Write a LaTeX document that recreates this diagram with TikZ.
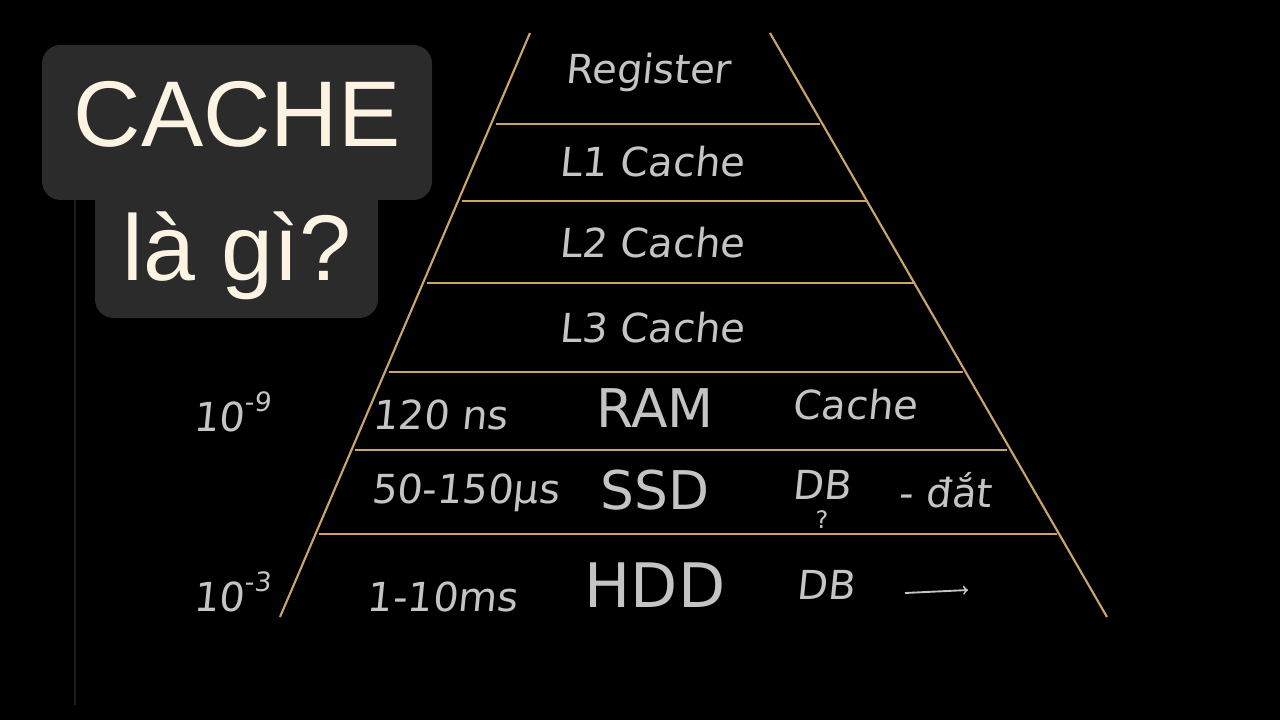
\documentclass[tikz,border=0pt]{standalone}
\usepackage{fontspec}
\setmainfont{Liberation Sans}
\newfontfamily\hand{DejaVu Sans}[Scale=1]
\begin{document}
\begin{tikzpicture}[x=0.75pt,y=-0.75pt,
  lvl/.style={draw=pyr,line width=1.6pt},
  hw/.style={text=hwc,font=\hand\fontsize{30}{32}\selectfont\addfontfeature{FakeSlant=0.1},inner sep=0},
  big/.style={text=cream,font=\fontsize{70}{74}\selectfont,inner sep=0}]
\definecolor{pyr}{HTML}{C9A46C}
\definecolor{hwc}{HTML}{C4C4C4}
\definecolor{cream}{HTML}{FDF3E3}
\definecolor{boxc}{HTML}{2B2B2B}
\fill[black] (0,0) rectangle (1280,720);
\useasboundingbox (0,0) rectangle (1280,720);
\draw[color=boxc!70!black,line width=1pt] (75,200) -- (75,705);
\fill[boxc,rounded corners=14pt] (42,45) rectangle (432,200);
\fill[boxc,rounded corners=14pt] (95,160) rectangle (378,318);
\node[big] (t1) at (237,114) {CACHE};
\node[big] (t2) at (237,256) {là gì?};
% pyramid
\coordinate (tl) at (530,33); \coordinate (tr) at (770,33);
\coordinate (bl) at (280,617); \coordinate (br) at (1107,617);
\draw[lvl] (tl) -- (bl); \draw[lvl] (tr) -- (br);
\foreach \y/\a/\b in {124/496/820,201/462/866,283/427/914,372/389/963,450/355/1007,534/319/1057}
  \draw[lvl] (\a,\y) -- (\b,\y);
\node[hw] (reg) at (648,72) {Register};
\node[hw] (l1) at (652,162) {L1 Cache};
\node[hw] (l2) at (652,243) {L2 Cache};
\node[hw] (l3) at (652,328) {L3 Cache};
\node[hw] (n1) at (440,415) {120 ns};
\node[hw,font=\hand\fontsize{40}{42}\selectfont] (ram) at (655,408) {RAM};
\node[hw] (c1) at (855,405) {Cache};
\node[hw] (n2) at (465,493) {50-150µs};
\node[hw,font=\hand\fontsize{40}{42}\selectfont] (ssd) at (655,490) {SSD};
\node[hw] (db1) at (822,485) {DB};
\node[hw,font=\hand\fontsize{18}{20}\selectfont] (q) at (822,520) {?};
\node[hw] (dat) at (945,490) {- đắt};
\node[hw] (n3) at (442,597) {1-10ms};
\node[hw,font=\hand\fontsize{46}{48}\selectfont] (hdd) at (655,585) {HDD};
\node[hw] (db2) at (826,585) {DB};
\coordinate (a1) at (905,593); \coordinate (a2) at (968,590);
\draw[hwc,line width=1.4pt,->] (a1) -- (a2);
\node[hw] (e9) at (232,412) {10\raisebox{0.5em}{\fontsize{20}{20}\selectfont -9}};
\node[hw] (e3) at (232,592) {10\raisebox{0.5em}{\fontsize{20}{20}\selectfont -3}};
\end{tikzpicture}
\end{document}
